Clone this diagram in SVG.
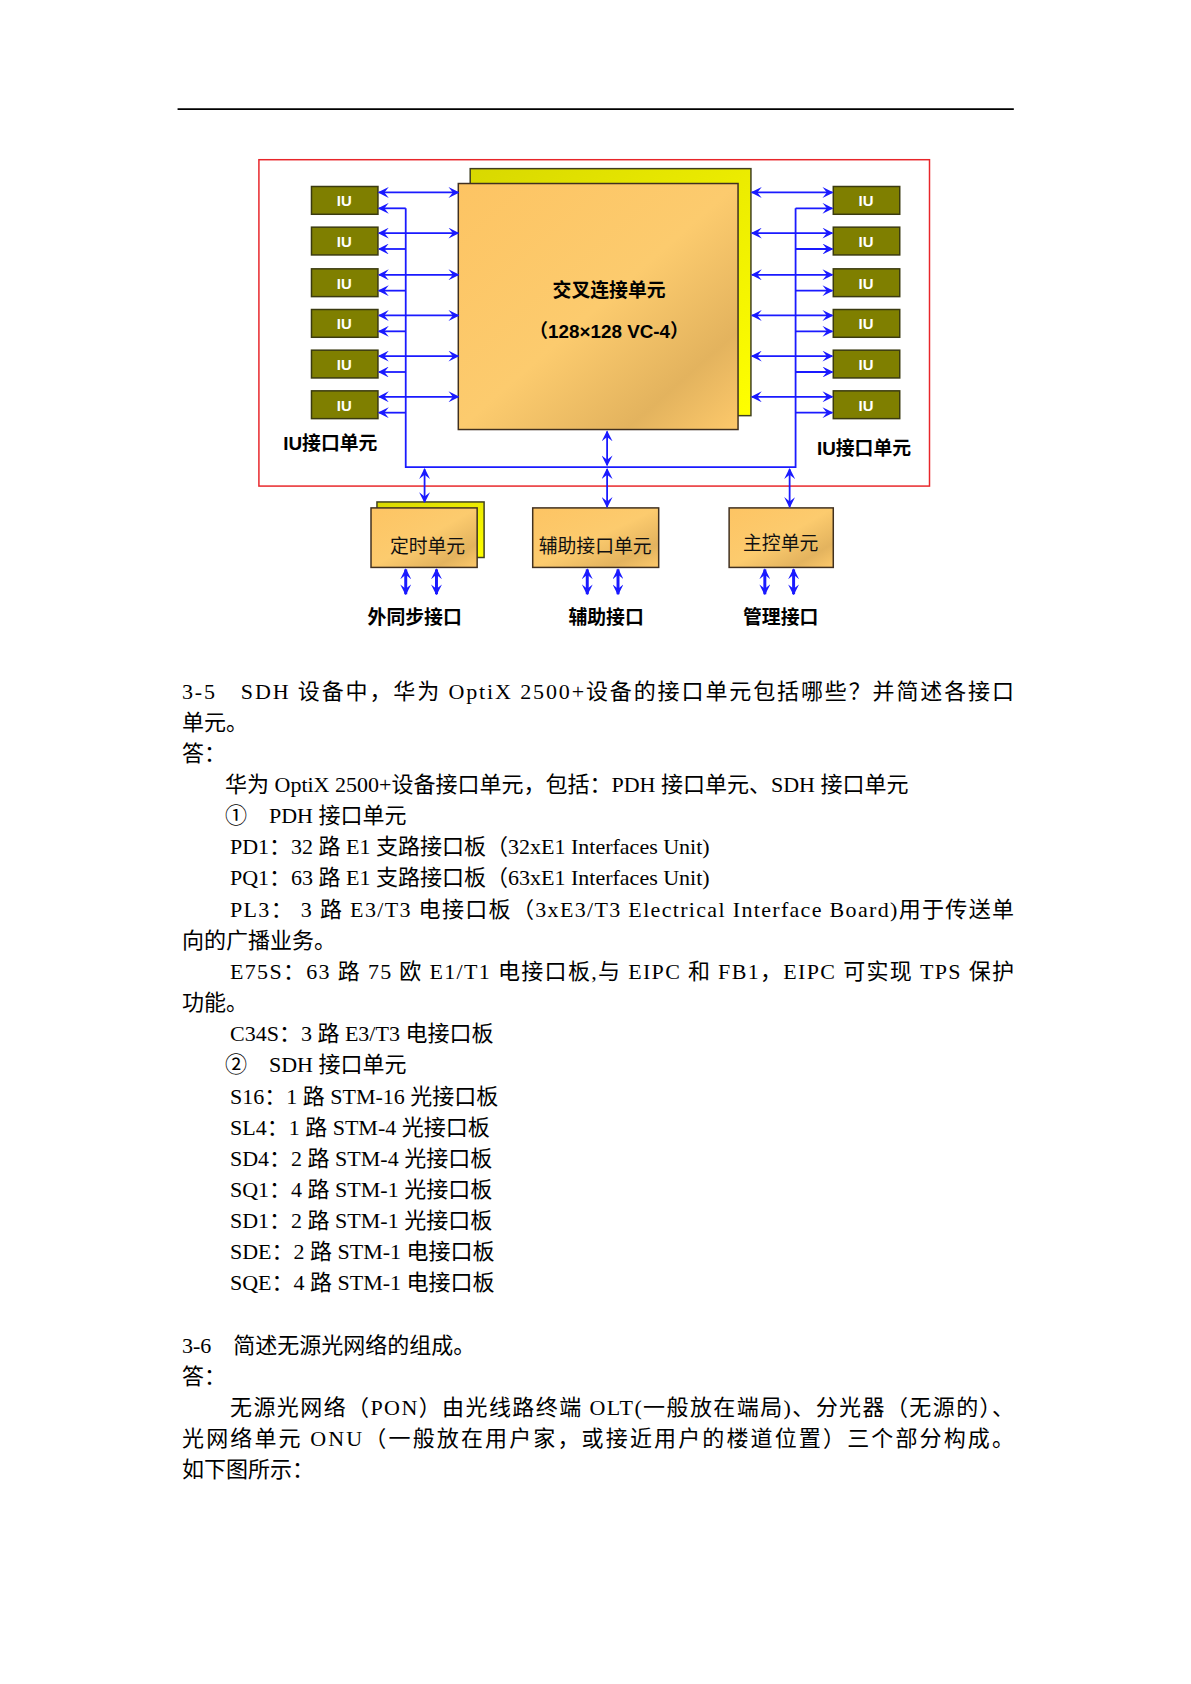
<svg xmlns="http://www.w3.org/2000/svg" width="1191" height="1684" viewBox="0 0 1191 1684">
<defs>
<linearGradient id="gold" x1="0" y1="0" x2="1" y2="1"><stop offset="0" stop-color="#fdc463"/><stop offset="0.5" stop-color="#fccb6e"/><stop offset="0.8" stop-color="#e3b35e"/><stop offset="1" stop-color="#fdc96b"/></linearGradient>
<linearGradient id="yel" x1="0" y1="0" x2="1" y2="1"><stop offset="0" stop-color="#d8d800"/><stop offset="1" stop-color="#ffff00"/></linearGradient>
<marker id="ah" viewBox="0 0 10 10" refX="9" refY="5" markerWidth="11" markerHeight="11" markerUnits="userSpaceOnUse" orient="auto-start-reverse"><path d="M0,0 L10,5 L0,10 L4,5 Z" fill="#1a1aff"/></marker>
</defs>
<style>
.iu rect{fill:#7f7f00;stroke:#3a3a10;stroke-width:1.5}
.iu text{fill:#fff;font:bold 15px "Liberation Sans",sans-serif;text-anchor:middle}
.box{fill:url(#gold);stroke:#403020;stroke-width:1.5}
.back{fill:url(#yel);stroke:#404020;stroke-width:1.5}
.c line,.c polyline{stroke:#1a1aff;stroke-width:1.8;fill:none}
.d{marker-start:url(#ah);marker-end:url(#ah)}
.e{marker-end:url(#ah)}
.lbl{font:bold 19px "Liberation Sans","Noto Sans CJK SC",sans-serif;text-anchor:middle;fill:#000}
.bl{font:19px "Liberation Sans","Noto Sans CJK SC",sans-serif;text-anchor:middle;fill:#111}
.t{font:22px "Liberation Serif","Noto Sans CJK SC",serif;fill:#000}
</style>
<g transform="scale(0.992)">
<line x1="179" y1="110" x2="1022" y2="110" stroke="#000" stroke-width="2"/>
<rect x="261" y="161" width="676" height="329" fill="none" stroke="#e8262a" stroke-width="1.5"/>
<g id="xc">
<rect class="back" x="474" y="170" width="283" height="249"/>
<rect class="box" x="462" y="185" width="282" height="248"/>
<text class="lbl" x="614" y="299">交叉连接单元</text>
<text class="lbl" x="614" y="341">（128×128 VC-4）</text>
</g>
<g id="iuL">
<g class="iu"><rect x="314" y="188" width="67" height="28"/><text x="347" y="208">IU</text></g>
<g class="iu"><rect x="314" y="229" width="67" height="28"/><text x="347" y="249">IU</text></g>
<g class="iu"><rect x="314" y="271" width="67" height="28"/><text x="347" y="291">IU</text></g>
<g class="iu"><rect x="314" y="312" width="67" height="28"/><text x="347" y="332">IU</text></g>
<g class="iu"><rect x="314" y="353" width="67" height="28"/><text x="347" y="373">IU</text></g>
<g class="iu"><rect x="314" y="394" width="67" height="28"/><text x="347" y="414">IU</text></g>
<text class="lbl" x="333" y="454">IU接口单元</text>
</g>
<g id="iuR">
<g class="iu"><rect x="840" y="188" width="67" height="28"/><text x="873" y="208">IU</text></g>
<g class="iu"><rect x="840" y="229" width="67" height="28"/><text x="873" y="249">IU</text></g>
<g class="iu"><rect x="840" y="271" width="67" height="28"/><text x="873" y="291">IU</text></g>
<g class="iu"><rect x="840" y="312" width="67" height="28"/><text x="873" y="332">IU</text></g>
<g class="iu"><rect x="840" y="353" width="67" height="28"/><text x="873" y="373">IU</text></g>
<g class="iu"><rect x="840" y="394" width="67" height="28"/><text x="873" y="414">IU</text></g>
<text class="lbl" x="871" y="459">IU接口单元</text>
</g>
<g id="timing">
<rect class="back" x="380" y="506" width="108" height="56"/>
<rect class="box" x="374" y="512" width="107" height="60"/>
<text class="bl" x="431" y="557">定时单元</text>
</g>
<g id="aux">
<rect class="box" x="537" y="512" width="127" height="60"/>
<text class="bl" x="600" y="557">辅助接口单元</text>
</g>
<g id="ctrl">
<rect class="box" x="735" y="512" width="105" height="60"/>
<text class="bl" x="787" y="554">主控单元</text>
</g>
<g id="lbls">
<text class="lbl" x="418" y="629">外同步接口</text>
<text class="lbl" x="611" y="629">辅助接口</text>
<text class="lbl" x="787" y="629">管理接口</text>
</g>
<g class="c" id="connectors">
<line class="d" x1="382" y1="194" x2="462" y2="194"/><line class="e" x1="409" y1="210" x2="382" y2="210"/>
<line class="d" x1="382" y1="235" x2="462" y2="235"/><line class="e" x1="409" y1="251" x2="382" y2="251"/>
<line class="d" x1="382" y1="277" x2="462" y2="277"/><line class="e" x1="409" y1="293" x2="382" y2="293"/>
<line class="d" x1="382" y1="318" x2="462" y2="318"/><line class="e" x1="409" y1="334" x2="382" y2="334"/>
<line class="d" x1="382" y1="359" x2="462" y2="359"/><line class="e" x1="409" y1="375" x2="382" y2="375"/>
<line class="d" x1="382" y1="400" x2="462" y2="400"/><line class="e" x1="409" y1="416" x2="382" y2="416"/>
<line class="d" x1="758" y1="194" x2="839" y2="194"/><line class="e" x1="802" y1="210" x2="839" y2="210"/>
<line class="d" x1="758" y1="235" x2="839" y2="235"/><line class="e" x1="802" y1="251" x2="839" y2="251"/>
<line class="d" x1="758" y1="277" x2="839" y2="277"/><line class="e" x1="802" y1="293" x2="839" y2="293"/>
<line class="d" x1="758" y1="318" x2="839" y2="318"/><line class="e" x1="802" y1="334" x2="839" y2="334"/>
<line class="d" x1="758" y1="359" x2="839" y2="359"/><line class="e" x1="802" y1="375" x2="839" y2="375"/>
<line class="d" x1="758" y1="400" x2="839" y2="400"/><line class="e" x1="802" y1="416" x2="839" y2="416"/>
<polyline points="409,210 409,471 802,471 802,210"/>
<line class="d" x1="612" y1="435" x2="612" y2="469"/>
<line class="d" x1="612" y1="473" x2="612" y2="511"/>
<line class="d" x1="428" y1="473" x2="428" y2="506"/>
<line class="d" x1="796" y1="473" x2="796" y2="511"/>
<line class="d" x1="409" y1="574" x2="409" y2="599" style="stroke-width:3"/><line class="d" x1="440" y1="574" x2="440" y2="599" style="stroke-width:3"/>
<line class="d" x1="592" y1="574" x2="592" y2="599" style="stroke-width:3"/><line class="d" x1="623" y1="574" x2="623" y2="599" style="stroke-width:3"/>
<line class="d" x1="771" y1="574" x2="771" y2="599" style="stroke-width:3"/><line class="d" x1="800" y1="574" x2="800" y2="599" style="stroke-width:3"/>
</g>
</g>
<g id="text">
<text class="t" x="182" y="699" textLength="832" lengthAdjust="spacing">3-5　SDH 设备中，华为 OptiX 2500+设备的接口单元包括哪些？并简述各接口</text>
<text class="t" x="182" y="730">单元。</text>
<text class="t" x="182" y="761">答：</text>
<text class="t" x="225" y="792">华为 OptiX 2500+设备接口单元，包括：PDH 接口单元、SDH 接口单元</text>
<text class="t" x="225" y="823">①　PDH 接口单元</text>
<text class="t" x="230" y="854">PD1：32 路 E1 支路接口板（32xE1 Interfaces Unit)</text>
<text class="t" x="230" y="885">PQ1：63 路 E1 支路接口板（63xE1 Interfaces Unit)</text>
<text class="t" x="230" y="917" textLength="784" lengthAdjust="spacing">PL3：  3 路 E3/T3 电接口板（3xE3/T3 Electrical Interface Board)用于传送单</text>
<text class="t" x="182" y="948">向的广播业务。</text>
<text class="t" x="230" y="979" textLength="784" lengthAdjust="spacing">E75S：63 路 75 欧 E1/T1 电接口板,与 EIPC 和 FB1，EIPC 可实现 TPS 保护</text>
<text class="t" x="182" y="1010">功能。</text>
<text class="t" x="230" y="1041">C34S：3 路 E3/T3 电接口板</text>
<text class="t" x="225" y="1072">②　SDH 接口单元</text>
<text class="t" x="230" y="1104">S16：1 路 STM-16 光接口板</text>
<text class="t" x="230" y="1135">SL4：1 路 STM-4 光接口板</text>
<text class="t" x="230" y="1166">SD4：2 路 STM-4 光接口板</text>
<text class="t" x="230" y="1197">SQ1：4 路 STM-1 光接口板</text>
<text class="t" x="230" y="1228">SD1：2 路 STM-1 光接口板</text>
<text class="t" x="230" y="1259">SDE：2 路 STM-1 电接口板</text>
<text class="t" x="230" y="1290">SQE：4 路 STM-1 电接口板</text>
<text class="t" x="182" y="1353">3-6　简述无源光网络的组成。</text>
<text class="t" x="182" y="1384">答：</text>
<text class="t" x="230" y="1415" textLength="784" lengthAdjust="spacing">无源光网络（PON）由光线路终端 OLT(一般放在端局)、分光器（无源的）、</text>
<text class="t" x="182" y="1446" textLength="832" lengthAdjust="spacing">光网络单元 ONU（一般放在用户家，或接近用户的楼道位置）三个部分构成。</text>
<text class="t" x="182" y="1477">如下图所示：</text>
</g>
</svg>
